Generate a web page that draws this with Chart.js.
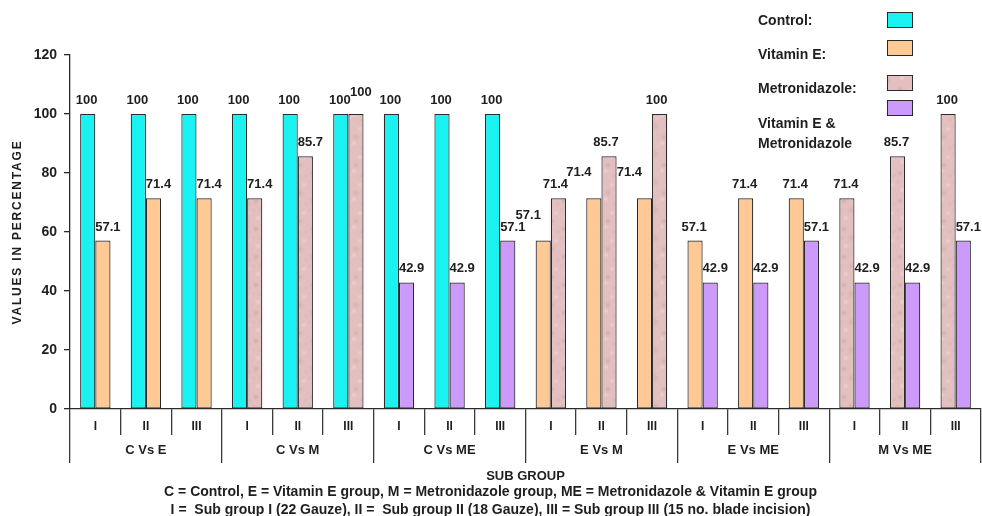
<!DOCTYPE html>
<html>
<head>
<meta charset="utf-8">
<script src="https://cdn.jsdelivr.net/npm/chart.js@4.4.1/dist/chart.umd.min.js"></script>
<style>
  html, body { margin: 0; padding: 0; background: #ffffff; }
  #wrap { width: 982px; height: 516px; }
</style>
</head>
<body>
<div id="wrap"><canvas id="chart" width="982" height="516"></canvas></div>
<script>
// Sub-group of each bar pair, six comparisons of three sub-groups each
const subGroups = ['I', 'II', 'III', 'I', 'II', 'III', 'I', 'II', 'III',
                   'I', 'II', 'III', 'I', 'II', 'III', 'I', 'II', 'III'];
const comparisons = ['C Vs E', 'C Vs M', 'C Vs ME', 'E Vs M', 'E Vs ME', 'M Vs ME'];
const yTicks = [0, 20, 40, 60, 80, 100, 120];

// Percentage values per treatment group (null where a group is not part of the comparison)
const control       = [100, 100, 100, 100, 100, 100, 100, 100, 100, null, null, null, null, null, null, null, null, null];
const vitaminE      = [57.1, 71.4, 71.4, null, null, null, null, null, null, 57.1, 71.4, 71.4, 57.1, 71.4, 71.4, null, null, null];
const metronidazole = [null, null, null, 71.4, 85.7, 100, null, null, null, 71.4, 85.7, 100, null, null, null, 71.4, 85.7, 100];
const vitEMetro     = [null, null, null, null, null, null, 42.9, 42.9, 57.1, null, null, null, 42.9, 42.9, 57.1, 42.9, 42.9, 57.1];

const footnotes = [
  'C = Control, E = Vitamin E group, M = Metronidazole group, ME = Metronidazole & Vitamin E group',
  'I =  Sub group I (22 Gauze), II =  Sub group II (18 Gauze), III = Sub group III (15 no. blade incision)'
];

const SANS = '"Liberation Sans", Arial, sans-serif';
const INK = '#1e1e1e';
const EDGE = '#2a2a2a';

// Soft mottled pink fill used for the metronidazole bars
function mottledFill() {
  const size = 28;
  const c = document.createElement('canvas');
  c.width = size; c.height = size;
  const g = c.getContext('2d');
  g.fillStyle = '#e3c0c0';
  g.fillRect(0, 0, size, size);
  const spots = [
    [4, 5, 5, '#d3a9aa'], [18, 3, 4, '#f0d3d3'], [11, 14, 6, '#d7afb0'],
    [24, 17, 4, '#efd0d0'], [6, 22, 4, '#f1d5d5'], [20, 25, 5, '#d5acad'],
    [14, 6, 3, '#ecc9c9'], [2, 14, 3, '#dbb4b4'], [26, 8, 3, '#d9b1b2']
  ];
  spots.forEach(([x, y, r, col]) => {
    for (let dx = -size; dx <= size; dx += size) {
      for (let dy = -size; dy <= size; dy += size) {
        const grd = g.createRadialGradient(x + dx, y + dy, 0, x + dx, y + dy, r);
        grd.addColorStop(0, col);
        grd.addColorStop(1, 'rgba(227,192,192,0)');
        g.fillStyle = grd;
        g.beginPath();
        g.arc(x + dx, y + dy, r, 0, Math.PI * 2);
        g.fill();
      }
    }
  });
  return g.createPattern(c, 'repeat');
}

const pinkFill = mottledFill();

// Value printed above each bar; labels of a pair are nudged apart so they
// do not run into the neighbouring bar or each other
const valueLabels = {
  id: 'valueLabels',
  afterDatasetsDraw(chart) {
    const ctx = chart.ctx;
    ctx.save();
    ctx.font = 'bold 13px ' + SANS;
    ctx.fillStyle = INK;
    ctx.textAlign = 'center';
    ctx.textBaseline = 'alphabetic';
    chart.data.labels.forEach((_, i) => {
      const bars = [];
      chart.data.datasets.forEach((ds, di) => {
        const v = ds.data[i];
        if (v === null || v === undefined) return;
        bars.push({ v, el: chart.getDatasetMeta(di).data[i] });
      });
      if (!bars.length) return;
      const leftLower = bars.length > 1 && bars[0].el.y > bars[1].el.y + 1;
      bars.forEach((b, k) => {
        let dx = k === 0 ? -1 : 5;
        let y = b.el.y - 10;
        if (leftLower) {
          dx = k === 0 ? -15 : -3;
          if (k === 0 && bars[0].el.y - bars[1].el.y > 30) y -= 12;
        }
        if (k === 1 && Math.abs(bars[0].el.y - b.el.y) < 12) y -= 8;
        ctx.fillText(String(b.v), b.el.x + dx, y);
      });
    });
    ctx.restore();
  }
};

// Key in the upper right: names on the left, colour boxes on the right
const sideKey = {
  id: 'sideKey',
  afterDraw(chart) {
    const ctx = chart.ctx;
    const rows = [
      { lines: ['Control:'], textY: [21], boxY: 12 },
      { lines: ['Vitamin E:'], textY: [55], boxY: 40 },
      { lines: ['Metronidazole:'], textY: [89], boxY: 75 },
      { lines: ['Vitamin E &', 'Metronidazole'], textY: [124, 144], boxY: 100 }
    ];
    ctx.save();
    ctx.font = 'bold 14px ' + SANS;
    ctx.textAlign = 'left';
    ctx.textBaseline = 'middle';
    rows.forEach((row, i) => {
      const ds = chart.data.datasets[i];
      ctx.fillStyle = INK;
      row.lines.forEach((t, j) => ctx.fillText(t, 758, row.textY[j]));
      ctx.fillStyle = ds.backgroundColor;
      ctx.fillRect(887.5, row.boxY + 0.5, 25, 15);
      ctx.strokeStyle = EDGE;
      ctx.lineWidth = 1;
      ctx.strokeRect(887.5, row.boxY + 0.5, 25, 15);
    });
    ctx.restore();
  }
};

// Spaced-out lettering for the vertical axis title
const spacedYTitle = {
  id: 'spacedYTitle',
  afterLayout(chart) {
    const s = chart.scales.y;
    if (!s || s._spacedTitle) return;
    const draw = s.drawTitle.bind(s);
    s.drawTitle = function () {
      const ctx = this.ctx;
      ctx.save();
      ctx.letterSpacing = '1.8px';
      draw();
      ctx.restore();
    };
    s._spacedTitle = true;
  }
};

const barStyle = { borderColor: EDGE, borderWidth: 1.2, borderSkipped: false };

new Chart(document.getElementById('chart'), {
  type: 'bar',
  data: {
    labels: subGroups,
    datasets: [
      Object.assign({ label: 'Control', data: control, backgroundColor: '#19f2f0' }, barStyle),
      Object.assign({ label: 'Vitamin E', data: vitaminE, backgroundColor: '#ffc995' }, barStyle),
      Object.assign({ label: 'Metronidazole', data: metronidazole, backgroundColor: pinkFill }, barStyle),
      Object.assign({ label: 'Vitamin E & Metronidazole', data: vitEMetro, backgroundColor: '#cb9afa' }, barStyle)
    ]
  },
  options: {
    responsive: false,
    animation: false,
    devicePixelRatio: 1,
    skipNull: true,
    categoryPercentage: 0.6,
    barPercentage: 1.0,
    layout: { padding: { top: 55, right: 1, left: 0, bottom: 0 } },
    plugins: {
      legend: { display: false },
      tooltip: { enabled: false },
      title: {
        display: true,
        position: 'bottom',
        text: footnotes,
        color: INK,
        font: { family: SANS, weight: 'bold', size: 14, lineHeight: 18 / 14 },
        padding: { top: -1, bottom: -3 }
      }
    },
    scales: {
      x: {
        offset: true,
        grid: { offset: true, drawOnChartArea: false, tickLength: 26, color: '#3a3a3a', lineWidth: 1.3 },
        border: { color: EDGE, width: 1.3 },
        ticks: { font: { family: SANS, weight: 'bold', size: 12 }, color: INK, padding: -16, autoSkip: false, maxRotation: 0 },
        afterFit(s) { s.height = 26; }
      },
      x2: {
        type: 'category',
        labels: comparisons,
        position: 'bottom',
        offset: true,
        grid: { offset: true, drawOnChartArea: false, tickLength: 28, color: '#3a3a3a', lineWidth: 1.3 },
        border: { display: false },
        ticks: { font: { family: SANS, weight: 'bold', size: 13 }, color: INK, padding: -20, autoSkip: false, maxRotation: 0 },
        title: { display: true, text: 'SUB GROUP', color: INK, font: { family: SANS, weight: 'bold', size: 13 }, padding: 0 },
        afterFit(s) { s.height = 49; }
      },
      y: {
        min: 0,
        max: 120,
        afterBuildTicks(s) { s.ticks = yTicks.map(v => ({ value: v })); },
        ticks: { font: { family: SANS, weight: 'bold', size: 14 }, color: INK, padding: 7 },
        grid: { drawOnChartArea: false, tickLength: 6, color: EDGE, lineWidth: 1.3 },
        border: { color: EDGE, width: 1.3 },
        title: { display: true, text: 'VALUES IN PERCENTAGE', color: INK, font: { family: SANS, weight: 'bold', size: 12 }, padding: { top: 10, bottom: 0 } },
        afterFit(s) { s.width = 70; }
      }
    }
  },
  plugins: [valueLabels, sideKey, spacedYTitle]
});
</script>
</body>
</html>
